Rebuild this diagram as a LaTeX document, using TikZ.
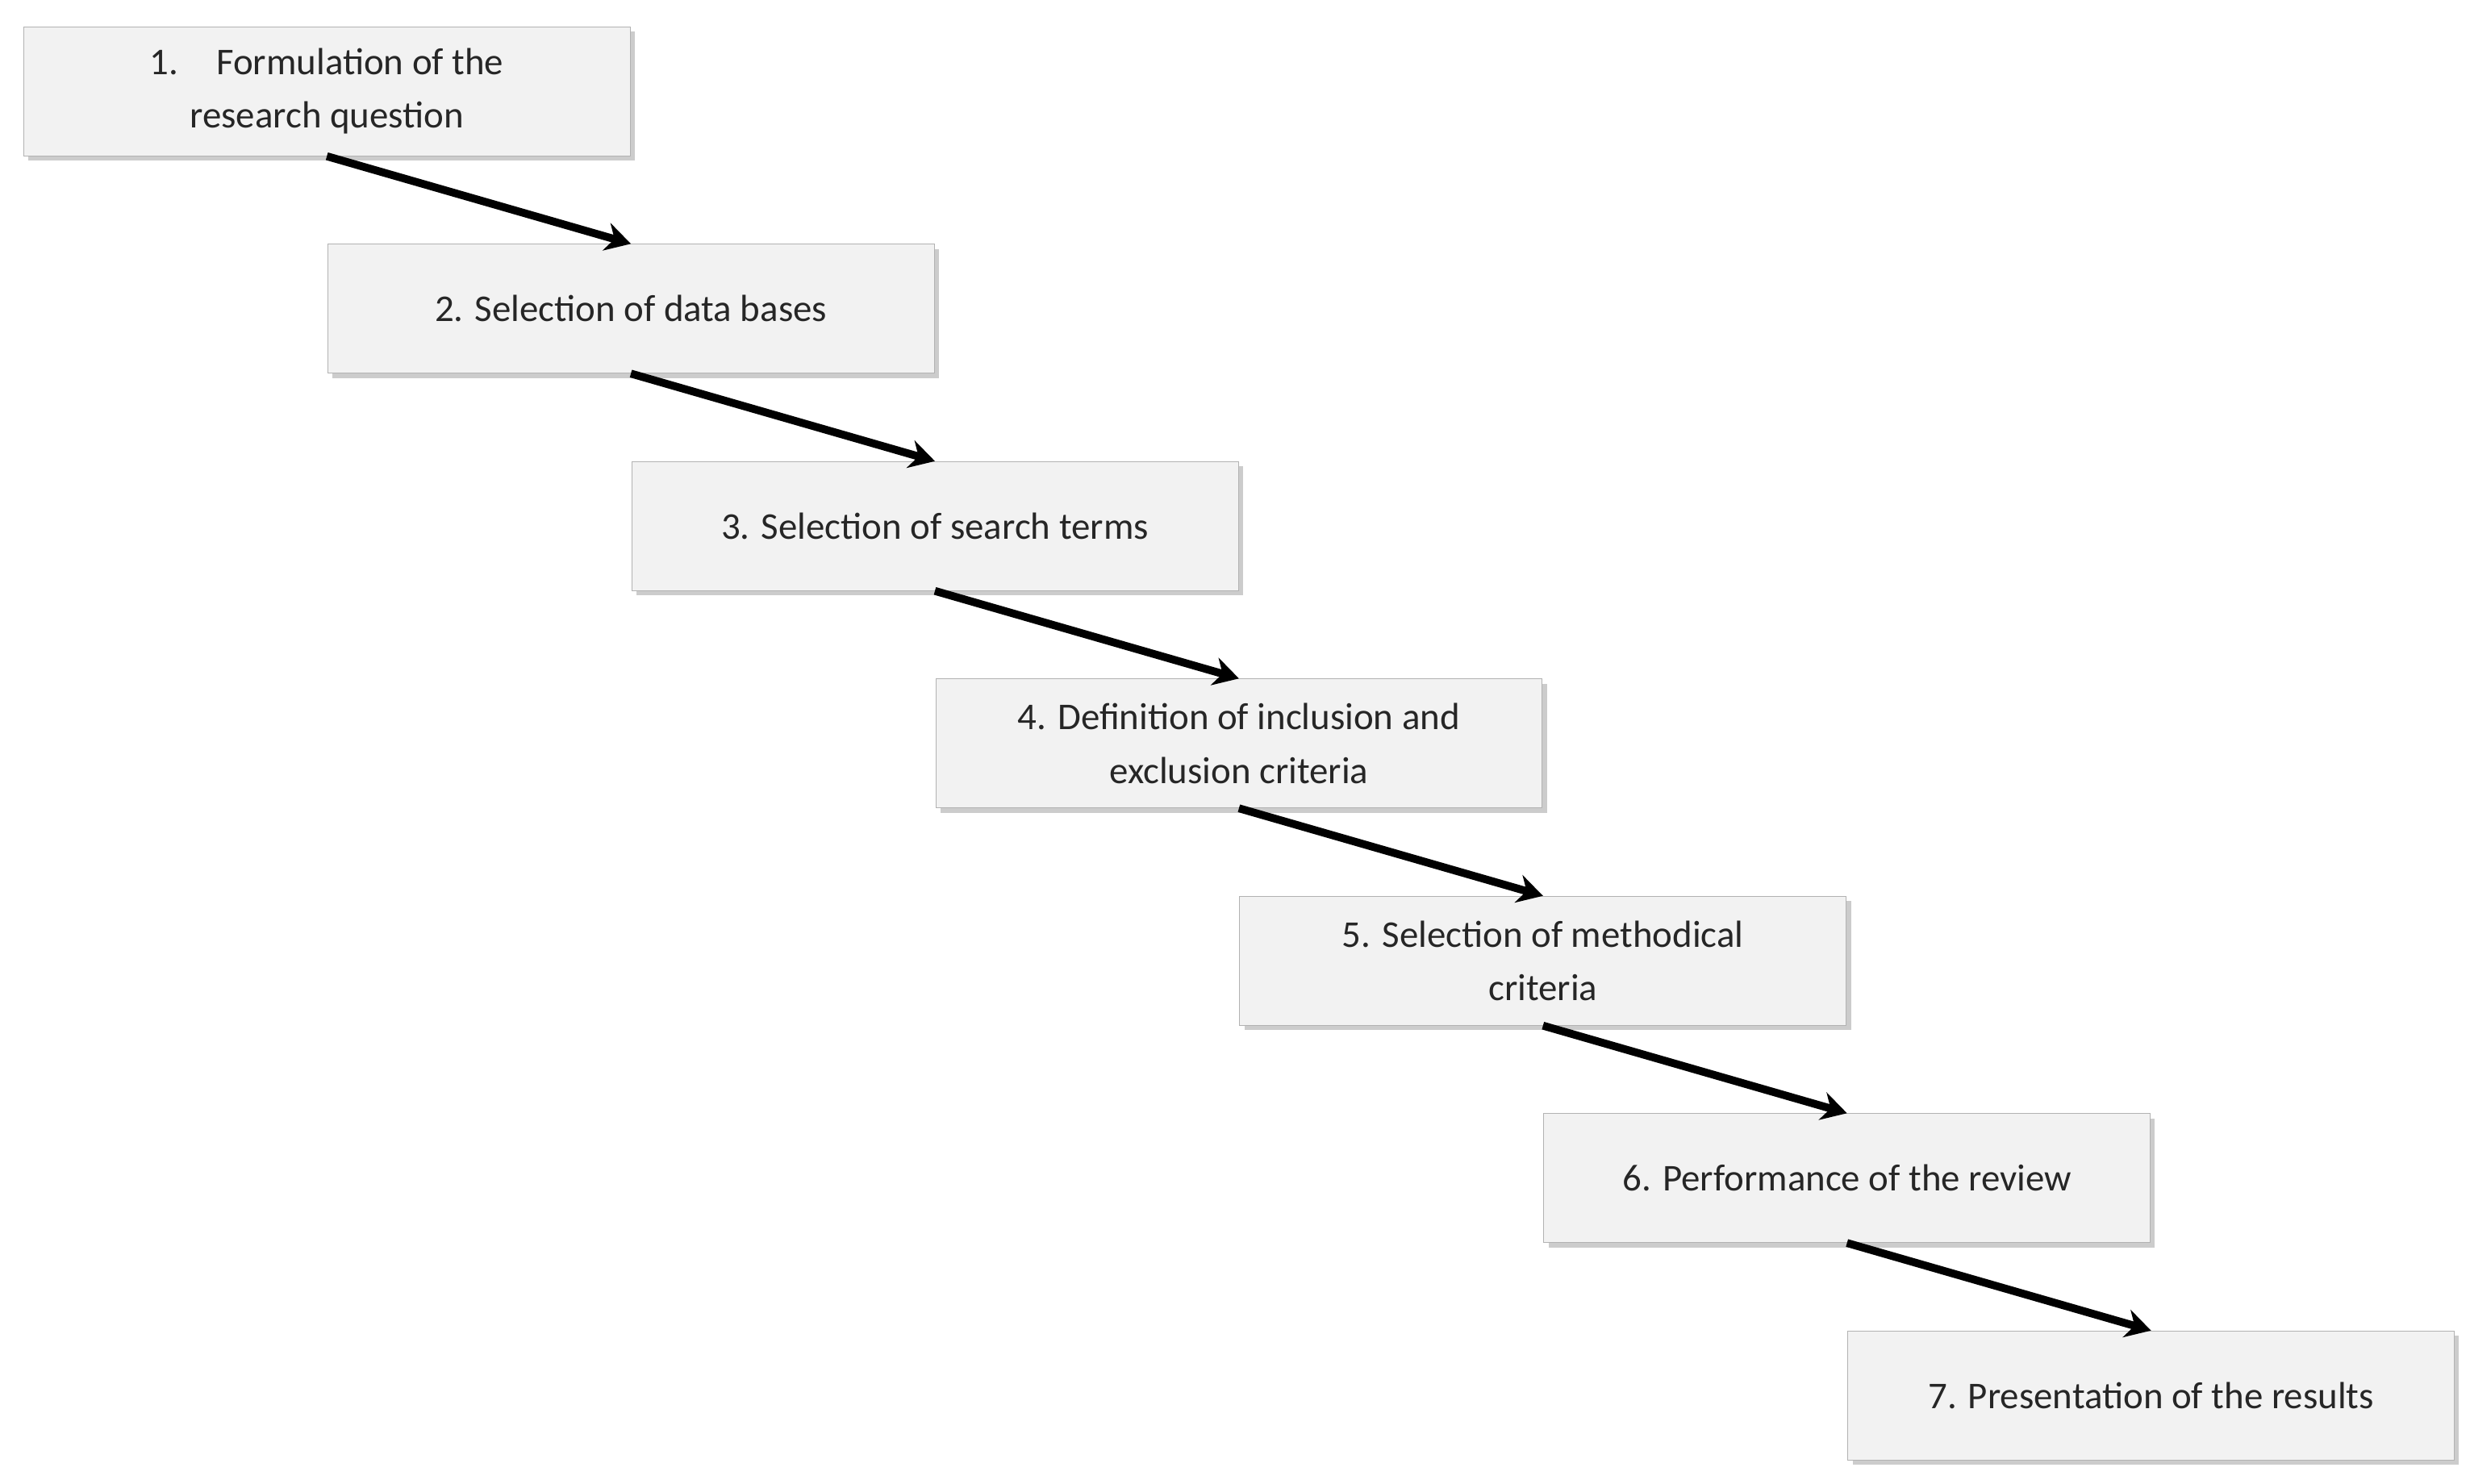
\documentclass[tikz,border=0pt]{standalone}
\usepackage{fontspec}
\setmainfont{Carlito}
\usetikzlibrary{shadows,arrows.meta}
\begin{document}
\begin{tikzpicture}[x=1pt,y=-1pt,
 box/.style={draw=gray!60,fill=gray!10,minimum width=385pt,minimum height=82pt,align=center,font=\fontsize{24}{34}\selectfont,text=black!85,drop shadow={shadow xshift=3pt,shadow yshift=-3pt,opacity=0.4}},
 arr/.style={line width=5pt,-{Stealth[length=16pt,width=18pt]}}]
\useasboundingbox (0,0) rectangle (1568,942);
\foreach \i/\t in {1/{1.\quad Formulation of the\\research question},2/{2. Selection of data bases},3/{3. Selection of search terms},4/{4. Definition of inclusion and\\exclusion criteria},5/{5. Selection of methodical\\criteria},6/{6. Performance of the review},7/{7. Presentation of the results}}{
 \node[box] (b\i) at ({207.5+193*(\i-1)},{58+138*(\i-1)}) {\t};
}
\foreach \i [evaluate=\i as \j using int(\i+1)] in {1,...,6}{
 \draw[arr] (b\i.south) -- (b\j.north);
}
\end{tikzpicture}
\end{document}
